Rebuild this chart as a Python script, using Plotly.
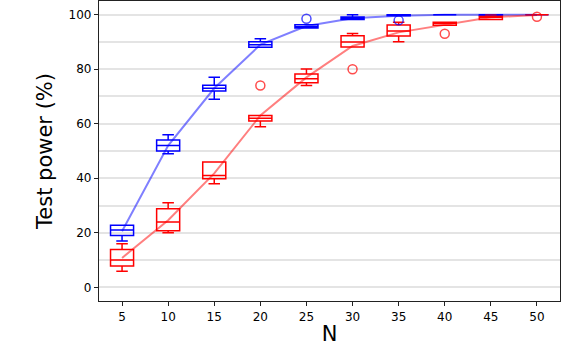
import plotly.graph_objects as go

N = [5, 10, 15, 20, 25, 30, 35, 40, 45, 50]

# blue series (box stats, in %)
blue_q1 = [19, 50, 72, 88, 95.1, 98.2, 99.6, 100, 99.7, 100]
blue_med = [21, 52, 73, 89, 95.6, 98.6, 100, 100, 100, 100]
blue_q3 = [22.8, 54, 74.1, 90.1, 96.3, 99.1, 100, 100, 100, 100]
blue_lo = [17, 49, 69, 88, 95.1, 98.2, 99.6, 100, 99.7, 100]
blue_hi = [22.8, 56, 77, 91.2, 96.3, 100, 100, 100, 100, 100]
blue_mean = [20.6, 52, 73, 89, 95.8, 98.7, 99.6, 100, 100, 100]
blue_flier_x = [25, 35]
blue_flier_y = [98.5, 97.9]

# red series
red_q1 = [7.8, 20.8, 39.8, 61, 75, 88.1, 92.2, 96.1, 98.2, 100]
red_med = [10, 24, 41, 62, 76.5, 90, 94, 96.8, 99, 100]
red_q3 = [13.9, 28.8, 46, 63, 78.2, 92.3, 96.2, 97.2, 99.4, 100]
red_lo = [5.9, 20, 38, 58.9, 74, 88.1, 90.1, 96.1, 98.2, 100]
red_hi = [16, 31, 46, 63, 80.1, 93.1, 97.2, 97.2, 100, 100]
red_mean = [10.8, 24.6, 41.8, 63, 77, 88.5, 93.5, 96.3, 99, 99.9]
red_flier_x = [20, 30, 40, 50]
red_flier_y = [74, 80, 93, 99.2]


def box_trace(q1, med, q3, lo, hi, color):
    return go.Box(
        x=N, q1=q1, median=med, q3=q3, lowerfence=lo, upperfence=hi,
        width=2.5, whiskerwidth=0.5, boxpoints=False,
        fillcolor="rgba(0,0,0,0)", line=dict(color=color, width=1.5),
        showlegend=False,
    )


fig = go.Figure()
fig.add_trace(box_trace(blue_q1, blue_med, blue_q3, blue_lo, blue_hi, "#0000ff"))
fig.add_trace(box_trace(red_q1, red_med, red_q3, red_lo, red_hi, "#ff0000"))

for mean, fx, fy, rgb in [
    (blue_mean, blue_flier_x, blue_flier_y, "0,0,255"),
    (red_mean, red_flier_x, red_flier_y, "255,0,0"),
]:
    fig.add_trace(go.Scatter(
        x=N, y=mean, mode="lines", showlegend=False,
        line=dict(color=f"rgba({rgb},0.5)", width=2),
    ))
    fig.add_trace(go.Scatter(
        x=fx, y=fy, mode="markers", showlegend=False,
        marker=dict(symbol="circle-open", size=9, color=f"rgba({rgb},0.7)",
                    line=dict(width=1.5)),
    ))

axis_common = dict(
    showline=True, linecolor="#222", linewidth=1.3, mirror=True,
    ticks="outside", ticklen=4, tickcolor="#222",
    tickfont=dict(family="DejaVu Sans", size=12, color="black"),
    zeroline=False, automargin=False,
)
title_font = dict(family="DejaVu Sans", size=21, color="black")

fig.update_layout(
    width=562, height=346,
    margin=dict(l=99, r=2, t=1, b=45),
    plot_bgcolor="white", paper_bgcolor="white",
    boxmode="overlay",
    xaxis=dict(
        **axis_common, range=[2.5, 52.5], tickvals=N, showgrid=False,
        title=dict(text="N", font=title_font, standoff=12),
    ),
    yaxis=dict(
        **axis_common, range=[-5, 105], tickvals=[0, 20, 40, 60, 80, 100],
        showgrid=True, gridcolor="#e4e4e4", gridwidth=2,
        minor=dict(dtick=10, tick0=0, showgrid=True, gridcolor="#e4e4e4", gridwidth=2, ticks=""),
        title=dict(text="Test power (%)", font=title_font, standoff=10),
    ),
)

# the page's default body margin would shift the figure by 8px
fig.write_html("out.html", config={"displayModeBar": False},
               post_script="document.body.style.margin='0';")
